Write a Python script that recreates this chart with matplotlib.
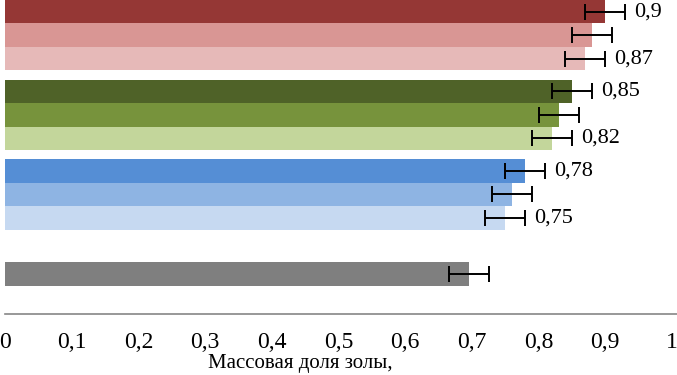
import matplotlib.pyplot as plt

plt.rcParams['font.family'] = ['Liberation Serif', 'DejaVu Serif']

# Ash mass fraction, top to bottom
values = [0.90, 0.88, 0.87, 0.85, 0.83, 0.82, 0.78, 0.76, 0.75, 0.695]
errors = [0.03] * 10
labels = ['0,9', '', '0,87', '0,85', '', '0,82', '0,78', '', '0,75', '']
colors = ['#953735', '#d99694', '#e6b9b8',
          '#4f6228', '#77933c', '#c3d69b',
          '#558ed5', '#8eb4e3', '#c6d9f1',
          '#7f7f7f']
# group index / slot inside group for each bar
groups = [0, 0, 0, 1, 1, 1, 2, 2, 2, 3]
slots = [0, 1, 2, 0, 1, 2, 0, 1, 2, 1]
xticks = [0, 0.1, 0.2, 0.3, 0.4, 0.5, 0.6, 0.7, 0.8, 0.9, 1]
xticklabels = ['0', '0,1', '0,2', '0,3', '0,4', '0,5', '0,6', '0,7', '0,8', '0,9', '1']

fig = plt.figure(figsize=(6.77, 3.75), dpi=100)
ax = fig.add_axes([5 / 677, 1 - 314 / 375, 1 - 5 / 677, 314 / 375])

ypos = [g * 3.4 + s for g, s in zip(groups, slots)]
ax.barh(ypos, values, height=1.0, color=colors, xerr=errors,
        error_kw=dict(ecolor='black', elinewidth=1.4, capsize=6, capthick=1.4))

for y, v, lab in zip(ypos, values, labels):
    if lab:
        ax.annotate(lab, (v, y), xytext=(29, 0), textcoords='offset pixels',
                    va='center', ha='left', fontsize=16)

ax.set_ylim(12.9, -0.5)
ax.set_xlim(0, 1.0075)
ax.set_yticks([])
ax.set_xticks(xticks)
ax.set_xticklabels(xticklabels, fontsize=17)
ax.tick_params(axis='x', length=0, pad=13)
for side in ['top', 'right', 'left']:
    ax.spines[side].set_visible(False)
ax.spines['bottom'].set_color('#868686')
ax.spines['bottom'].set_linewidth(1.2)

ax.set_xlabel('Массовая доля золы,', fontsize=15, labelpad=0)
ax.xaxis.set_label_coords(0.439, -0.127)

plt.savefig('out.png', dpi=100)
